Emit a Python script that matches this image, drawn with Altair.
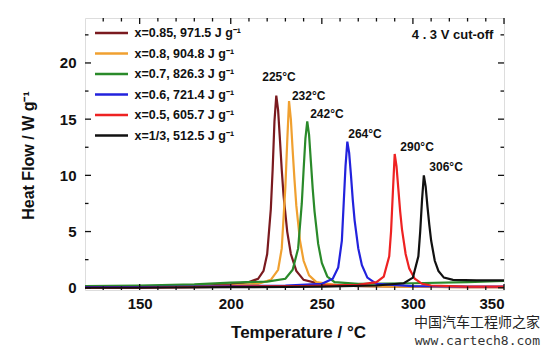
import altair as alt
import pandas as pd

# ---- data ----
labels = [
    "x=0.85, 971.5 J g⁻¹",
    "x=0.8, 904.8 J g⁻¹",
    "x=0.7, 826.3 J g⁻¹",
    "x=0.6, 721.4 J g⁻¹",
    "x=0.5, 605.7 J g⁻¹",
    "x=1/3, 512.5 J g⁻¹",
]
colors = ["#7a1a1f", "#f0a030", "#2a8a2a", "#2222dd", "#ee2222", "#111111"]

t_085 = [120, 150, 180, 200, 210, 215, 218, 220, 222, 223, 224, 225, 226, 227, 228, 229, 231, 233, 236, 240, 250, 270, 300, 330, 350]
h_085 = [0.0, 0.05, 0.15, 0.3, 0.5, 0.8, 1.5, 3.0, 7.0, 10.5, 14.8, 17.1, 15.8, 13.2, 10.5, 8.2, 5.0, 3.0, 1.5, 0.7, 0.3, 0.15, 0.1, 0.05, 0.05]

t_08 = [120, 150, 180, 200, 215, 222, 226, 228, 230, 231, 232, 233, 234, 235, 236, 238, 240, 243, 247, 260, 290, 320, 350]
h_08 = [0.0, 0.05, 0.1, 0.2, 0.35, 0.7, 1.6, 3.5, 9.0, 13.0, 16.6, 15.0, 12.2, 9.6, 7.3, 4.2, 2.4, 1.1, 0.5, 0.2, 0.1, 0.05, 0.05]

t_07 = [120, 150, 180, 200, 220, 230, 234, 237, 239, 240, 241, 242, 243, 244, 245, 246, 248, 250, 253, 257, 270, 300, 330, 350]
h_07 = [0.15, 0.2, 0.3, 0.45, 0.55, 0.8, 1.6, 3.5, 7.5, 10.5, 13.3, 14.8, 13.6, 11.2, 8.8, 6.8, 3.9, 2.2, 1.0, 0.5, 0.35, 0.4, 0.5, 0.6]

t_06 = [120, 150, 180, 200, 230, 250, 256, 259, 261, 262, 263, 264, 265, 266, 267, 268, 270, 272, 275, 280, 300, 330, 350]
h_06 = [0.05, 0.05, 0.1, 0.15, 0.2, 0.35, 0.8, 1.8, 4.2, 7.5, 10.8, 13.0, 12.0, 10.0, 7.8, 6.0, 3.5, 2.0, 0.9, 0.35, 0.15, 0.1, 0.1]

t_05 = [120, 150, 180, 200, 240, 270, 280, 284, 287, 288, 289, 290, 291, 292, 293, 294, 296, 298, 301, 305, 310, 330, 350]
h_05 = [0.0, 0.0, 0.05, 0.1, 0.15, 0.25, 0.5, 1.0, 2.8, 5.0, 8.5, 11.9, 10.8, 8.8, 6.8, 5.2, 3.0, 1.7, 0.8, 0.35, 0.2, 0.1, 0.1]

t_033 = [120, 150, 200, 250, 280, 295, 300, 303, 304, 305, 306, 307, 308, 309, 310, 312, 314, 317, 322, 335, 350]
h_033 = [0.0, 0.0, 0.05, 0.1, 0.2, 0.4, 0.9, 2.8, 5.0, 7.8, 10.0, 9.0, 7.2, 5.6, 4.2, 2.4, 1.5, 0.9, 0.7, 0.65, 0.65]

series_t = [t_085, t_08, t_07, t_06, t_05, t_033]
series_h = [h_085, h_08, h_07, h_06, h_05, h_033]

ann_text = ["225°C", "232°C", "242°C", "264°C", "290°C", "306°C"]
ann_t = [217.3, 233.6, 243.6, 264.5, 293.1, 309.0]
ann_h = [18.75, 17.1, 15.5, 13.7, 12.5, 10.7]

x_major = [150, 200, 250, 300, 350]
x_minor = [130, 140, 160, 170, 180, 190, 210, 220, 230, 240, 260, 270, 280, 290, 310, 320, 330, 340]
y_major = [0, 5, 10, 15, 20]
y_minor = [2.5, 7.5, 12.5, 17.5, 22.5]

# ---- build tables ----
rows = []
for lab, ts, hs in zip(labels, series_t, series_h):
    for t, h in zip(ts, hs):
        rows.append({"series": lab, "T": t, "H": h})
df = pd.DataFrame(rows)
ann = pd.DataFrame({"T": ann_t, "H": ann_h, "txt": ann_text})
xmaj = pd.DataFrame({"T": x_major})
xmin = pd.DataFrame({"T": x_minor})
ymaj = pd.DataFrame({"H": y_major})
ymin = pd.DataFrame({"H": y_minor})

W, H = 419, 272
FONT = "Liberation Sans"

xscale = alt.Scale(domain=[120, 350], nice=False, zero=False)
yscale = alt.Scale(domain=[-0.2, 24], nice=False, zero=False)

lines = alt.Chart(df).mark_line(strokeWidth=2.2, clip=True).encode(
    x=alt.X("T:Q", scale=xscale,
            axis=alt.Axis(values=x_major, ticks=False, domain=False, grid=False,
                          labelFont=FONT, labelFontWeight="bold", labelFontSize=15,
                          labelColor="#111", labelPadding=6,
                          title="Temperature  / °C", titleFont=FONT, titleFontWeight="bold",
                          titleFontSize=17, titleColor="#111", titleX=213, titleY=42,
                          titleBaseline="middle", titleAlign="center")),
    y=alt.Y("H:Q", scale=yscale,
            axis=alt.Axis(values=y_major, ticks=False, domain=False, grid=False,
                          labelFont=FONT, labelFontWeight="bold", labelFontSize=15,
                          labelColor="#111", labelPadding=9,
                          title="Heat Flow  /  W g⁻¹", titleFont=FONT, titleFontWeight="bold",
                          titleFontSize=16, titleColor="#111", titleX=-57, titleY=137,
                          titleAngle=-90, titleBaseline="middle", titleAlign="center")),
    color=alt.Color("series:N", sort=labels,
                    scale=alt.Scale(domain=labels, range=colors),
                    legend=alt.Legend(title=None, orient="none", legendX=19.5, legendY=8,
                                      symbolType="M-3,0L3,0", symbolSize=121,
                                      symbolStrokeWidth=2.5, labelOffset=16,
                                      labelFont=FONT, labelFontWeight="bold",
                                      labelFontSize=12.5, labelColor="#111",
                                      rowPadding=6.5, padding=0, labelLimit=300)),
    order=alt.Order("T:Q"),
)

texts = alt.Chart(ann).mark_text(align="left", baseline="middle", font=FONT,
                                 fontWeight="bold", fontSize=12, color="#111").encode(
    x=alt.X("T:Q", scale=xscale), y=alt.Y("H:Q", scale=yscale), text="txt:N")

cut = alt.Chart(pd.DataFrame({"T": [344.2], "H": [22.5], "txt": ["4 . 3 V cut-off"]})).mark_text(
    align="right", baseline="middle", font=FONT, fontWeight="bold", fontSize=13, color="#111"
).encode(x=alt.X("T:Q", scale=xscale), y=alt.Y("H:Q", scale=yscale), text="txt:N")

def xticks(data, length):
    b = alt.Chart(data).mark_rule(color="#111", strokeWidth=1.3).encode(
        x=alt.X("T:Q", scale=xscale), y=alt.value(H), y2=alt.value(H - length))
    t = alt.Chart(data).mark_rule(color="#111", strokeWidth=1.3).encode(
        x=alt.X("T:Q", scale=xscale), y=alt.value(0), y2=alt.value(length))
    return b + t

def yticks(data, length):
    l = alt.Chart(data).mark_rule(color="#111", strokeWidth=1.3).encode(
        y=alt.Y("H:Q", scale=yscale), x=alt.value(0), x2=alt.value(length))
    r = alt.Chart(data).mark_rule(color="#111", strokeWidth=1.3).encode(
        y=alt.Y("H:Q", scale=yscale), x=alt.value(W), x2=alt.value(W - length))
    return l + r

wm1 = alt.Chart(pd.DataFrame({"txt": ["中国汽车工程师之家"]})).mark_text(
    align="right", baseline="middle", font="Noto Sans CJK SC",
    fontSize=14, color="#222").encode(
    x=alt.value(455), y=alt.value(305), text="txt:N")
wm2 = alt.Chart(pd.DataFrame({"txt": ["www.cartech8.com"]})).mark_text(
    align="right", baseline="middle", font="DejaVu Sans Mono", fontSize=13, color="#333").encode(
    x=alt.value(455), y=alt.value(323), text="txt:N")

chart = alt.layer(
    lines, texts, cut,
    xticks(xmaj, 6), xticks(xmin, 3.5), yticks(ymaj, 6), yticks(ymin, 3.5),
    wm1, wm2,
).properties(
    width=W, height=H,
    padding={"left": 85, "top": 18, "right": 46, "bottom": 62},
    autosize="none",
).configure_view(stroke="#111", strokeWidth=1.6).configure(background="white")

chart.save("out.html", embed_options={"renderer": "svg", "actions": False})
